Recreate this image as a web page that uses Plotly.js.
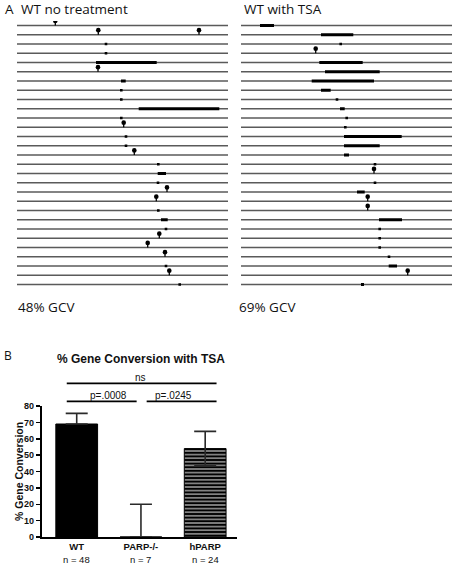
<!DOCTYPE html>
<html><head><meta charset="utf-8">
<script src="https://cdn.plot.ly/plotly-3.0.1.min.js"></script>
<style>html,body{margin:0;padding:0;background:#fff}#chart{width:471px;height:575px}</style>
</head><body><div id="chart"></div>
<script>
// ---------- Panel A data (positions along the sequence, arbitrary units 0..seqLength) ----------
const seqLength = 211;
const nRows = 29;

const leftDotRows  = [3, 4, 8, 9, 11, 13, 14, 16, 18, 21, 23, 27, 29];
const leftDotPos   = [89, 89, 104.3, 104.3, 104.3, 109, 109, 141.3, 141, 141.3, 149, 149, 162.7];
const leftPinRows  = [1, 2, 2, 6, 12, 15, 19, 20, 24, 25, 26, 28];
const leftPinPos   = [38.3, 81.3, 182, 81, 106.7, 117.3, 150, 139.3, 142.3, 130.7, 148, 152.3];
const leftBarRows  = [5, 7, 10, 17, 22];
const leftBarStart = [79, 104, 121.7, 140.7, 144];
const leftBarEnd   = [139.7, 108.7, 202.3, 149, 150.7];

const rightDotRows  = [3, 9, 11, 12, 16, 18, 23, 24, 25, 26];
const rightDotPos   = [99.7, 96, 105.7, 104.3, 134, 134, 138.7, 138.7, 138.7, 148];
const rightPinRows  = [4, 17, 20, 21, 28];
const rightPinPos   = [74.7, 133, 126.7, 126.7, 166.7];
const rightBarRows  = [1, 2, 5, 6, 7, 8, 10, 13, 14, 15, 19, 22, 27, 29];
const rightBarStart = [19, 80, 78.3, 84, 70.7, 80, 99, 103, 103, 103, 116, 138, 147.7, 120];
const rightBarEnd   = [33, 112.3, 121.7, 138.7, 133, 89.7, 103.7, 160.7, 138.7, 108, 123.7, 161, 156, 123];

const panelTitles = ["WT no treatment", "WT with TSA"];
const panelGCV = ["48% GCV", "69% GCV"];

// ---------- Panel B data ----------
const groups = ["WT", "PARP-/-", "hPARP"];
const groupN = ["n = 48", "n = 7", "n = 24"];
const gcvValues = [69, 0, 54];
const gcvErrPlus = [6.5, 20, 10.5];
const gcvErrMinus = [0, 0, 10.5];
const compFrom = [0, 0, 1];
const compTo = [2, 1, 2];
const compLabel = ["ns", "p=.0008", "p=.0245"];
const compLevel = [2, 1, 1];

// ---------- helpers ----------
const W = 471, H = 575;
const fx = x => x / W;
const fy = y => 1 - y / H;

function panelTraces(xa, ya, dotRows, dotPos, pinRows, pinPos, barRows, barStart, barEnd) {
  const traces = [];
  const lx = [], ly = [];
  for (let r = 1; r <= nRows; r++) { lx.push(0, seqLength, null); ly.push(r, r, null); }
  traces.push({x: lx, y: ly, xaxis: xa, yaxis: ya, mode: 'lines', type: 'scatter',
    line: {color: '#5a5a5a', width: 1.3}, hoverinfo: 'skip', showlegend: false});
  const bx = [], by = [];
  barRows.forEach((r, i) => { bx.push(barStart[i], barEnd[i], null); by.push(r, r, null); });
  traces.push({x: bx, y: by, xaxis: xa, yaxis: ya, mode: 'lines', type: 'scatter',
    line: {color: '#000', width: 2.8}, hoverinfo: 'skip', showlegend: false});
  traces.push({x: dotPos, y: dotRows, xaxis: xa, yaxis: ya, mode: 'markers', type: 'scatter',
    marker: {color: '#000', size: 2.6, symbol: 'square'}, hoverinfo: 'skip', showlegend: false});
  const sx = [], sy = [];
  pinRows.forEach((r, i) => { sx.push(pinPos[i], pinPos[i], null); sy.push(r, r - 0.45, null); });
  traces.push({x: sx, y: sy, xaxis: xa, yaxis: ya, mode: 'lines', type: 'scatter',
    line: {color: '#000', width: 1.3}, hoverinfo: 'skip', showlegend: false});
  traces.push({x: pinPos, y: pinRows.map(r => r - 0.5), xaxis: xa, yaxis: ya, mode: 'markers', type: 'scatter',
    marker: {color: '#000', size: 4.6, symbol: 'circle'}, hoverinfo: 'skip', showlegend: false});
  return traces;
}

const data = [].concat(
  panelTraces('x', 'y', leftDotRows, leftDotPos, leftPinRows, leftPinPos, leftBarRows, leftBarStart, leftBarEnd),
  panelTraces('x2', 'y2', rightDotRows, rightDotPos, rightPinRows, rightPinPos, rightBarRows, rightBarStart, rightBarEnd)
);

data.push({
  type: 'bar', x: [0, 1, 2], y: gcvValues, xaxis: 'x3', yaxis: 'y3', width: 0.65,
  marker: {color: '#000', line: {color: '#000', width: 1},
    pattern: {shape: ['', '', '-'], fillmode: 'overlay', fgcolor: '#d8d8d8', fgopacity: 1, size: 3.6, solidity: 0.3}},
  error_y: {type: 'data', array: gcvErrPlus, arrayminus: gcvErrMinus, symmetric: false,
    color: '#2a2a2a', thickness: 1.6, width: 11},
  hoverinfo: 'skip', showlegend: false
});

// row geometry (pixels)
const row1Y = 25.5, rowStep = 9.25;
const yTop = row1Y - rowStep / 2, yBot = row1Y + (nRows - 1) * rowStep + rowStep / 2;

const hidden = {visible: false, fixedrange: true};
const fontA = {family: 'Open Sans, Noto Sans, sans-serif', size: 13.5, color: '#111'};
const fontB = {family: 'Liberation Sans, Arial, sans-serif', color: '#111'};

const annotations = [
  {text: 'A', x: fx(2.5), y: fy(8.5), xanchor: 'left', yanchor: 'middle'},
  {text: panelTitles[0], x: fx(18.5), y: fy(8.5), xanchor: 'left', yanchor: 'middle'},
  {text: panelTitles[1], x: fx(242), y: fy(8.5), xanchor: 'left', yanchor: 'middle'},
  {text: panelGCV[0], x: fx(16), y: fy(307), xanchor: 'left', yanchor: 'middle'},
  {text: panelGCV[1], x: fx(237), y: fy(307), xanchor: 'left', yanchor: 'middle'},
].map(a => Object.assign({xref: 'paper', yref: 'paper', showarrow: false, font: fontA}, a));

annotations.push({text: 'B', x: fx(1.5), y: fy(355), xref: 'paper', yref: 'paper', xanchor: 'left', yanchor: 'middle',
  showarrow: false, font: Object.assign({}, fontA, {size: 12})});
annotations.push({text: '<b>% Gene Conversion with TSA</b>', x: fx(140.5), y: fy(359), xref: 'paper', yref: 'paper',
  xanchor: 'center', yanchor: 'middle', showarrow: false, font: Object.assign({}, fontB, {size: 12})});
annotations.push({text: '<b>% Gene Conversion</b>', x: fx(18.5), y: fy(471.5), xref: 'paper', yref: 'paper',
  xanchor: 'center', yanchor: 'middle', textangle: -90, showarrow: false, font: Object.assign({}, fontB, {size: 10.5})});
groupN.forEach((t, i) => annotations.push({text: t, xref: 'x3', yref: 'paper', x: i, y: fy(559.7),
  xanchor: 'center', yanchor: 'middle', showarrow: false, font: Object.assign({}, fontB, {size: 9.5})}));

// comparison brackets
const bPlotTop = 406, bPlotBot = 537;
const levelLineY = {1: 401.3, 2: 383.3};
const shapes = [];
compFrom.forEach((a, i) => {
  const b = compTo[i];
  const ly = levelLineY[compLevel[i]];
  // inner ends of adjacent brackets leave a small gap around the shared bar
  const leftPad = (a === 1) ? -0.089 : 0.155;
  const rightPad = (b === 1) ? -0.067 : 0.177;
  shapes.push({type: 'line', xref: 'x3', yref: 'paper', x0: a - leftPad, x1: b + rightPad, y0: fy(ly), y1: fy(ly),
    line: {color: '#000', width: 1.8}});
  annotations.push({text: compLabel[i], xref: 'x3', yref: 'paper', x: (a + b) / 2, y: fy(ly - 6),
    xanchor: 'center', yanchor: 'middle', showarrow: false, font: Object.assign({}, fontB, {size: 10})});
});

const layout = {
  width: W, height: H, margin: {l: 0, r: 0, t: 0, b: 0},
  paper_bgcolor: '#fff', plot_bgcolor: 'rgba(0,0,0,0)',
  showlegend: false,
  xaxis: Object.assign({domain: [fx(17), fx(228)], range: [0, seqLength], anchor: 'y'}, hidden),
  yaxis: Object.assign({domain: [fy(yBot), fy(yTop)], range: [nRows + 0.5, 0.5], anchor: 'x'}, hidden),
  xaxis2: Object.assign({domain: [fx(241), fx(452)], range: [0, seqLength], anchor: 'y2'}, hidden),
  yaxis2: Object.assign({domain: [fy(yBot), fy(yTop)], range: [nRows + 0.5, 0.5], anchor: 'x2'}, hidden),
  xaxis3: {domain: [fx(41.7), fx(237.3)], range: [-0.545, 2.5], anchor: 'y3', fixedrange: true,
    tickmode: 'array', tickvals: [0, 1, 2], ticktext: groups.map(g => '<b>' + g + '</b>'),
    ticks: '', showline: true, linecolor: '#000', linewidth: 1.8, showgrid: false, zeroline: false,
    tickfont: Object.assign({}, fontB, {size: 9.5})},
  yaxis3: {domain: [fy(bPlotBot), fy(bPlotTop)], range: [0, 80], anchor: 'x3', fixedrange: true,
    tickmode: 'linear', tick0: 0, dtick: 10, ticks: 'outside', ticklen: 4.5, tickwidth: 1.5, tickcolor: '#000',
    showline: true, linecolor: '#000', linewidth: 1.5, showgrid: false, zeroline: false,
    tickfont: Object.assign({}, fontB, {size: 9, weight: 'bold'})},
  annotations: annotations,
  shapes: shapes,
  bargap: 0
};

Plotly.newPlot('chart', data, layout, {staticPlot: true, displayModeBar: false});
</script></body></html>
